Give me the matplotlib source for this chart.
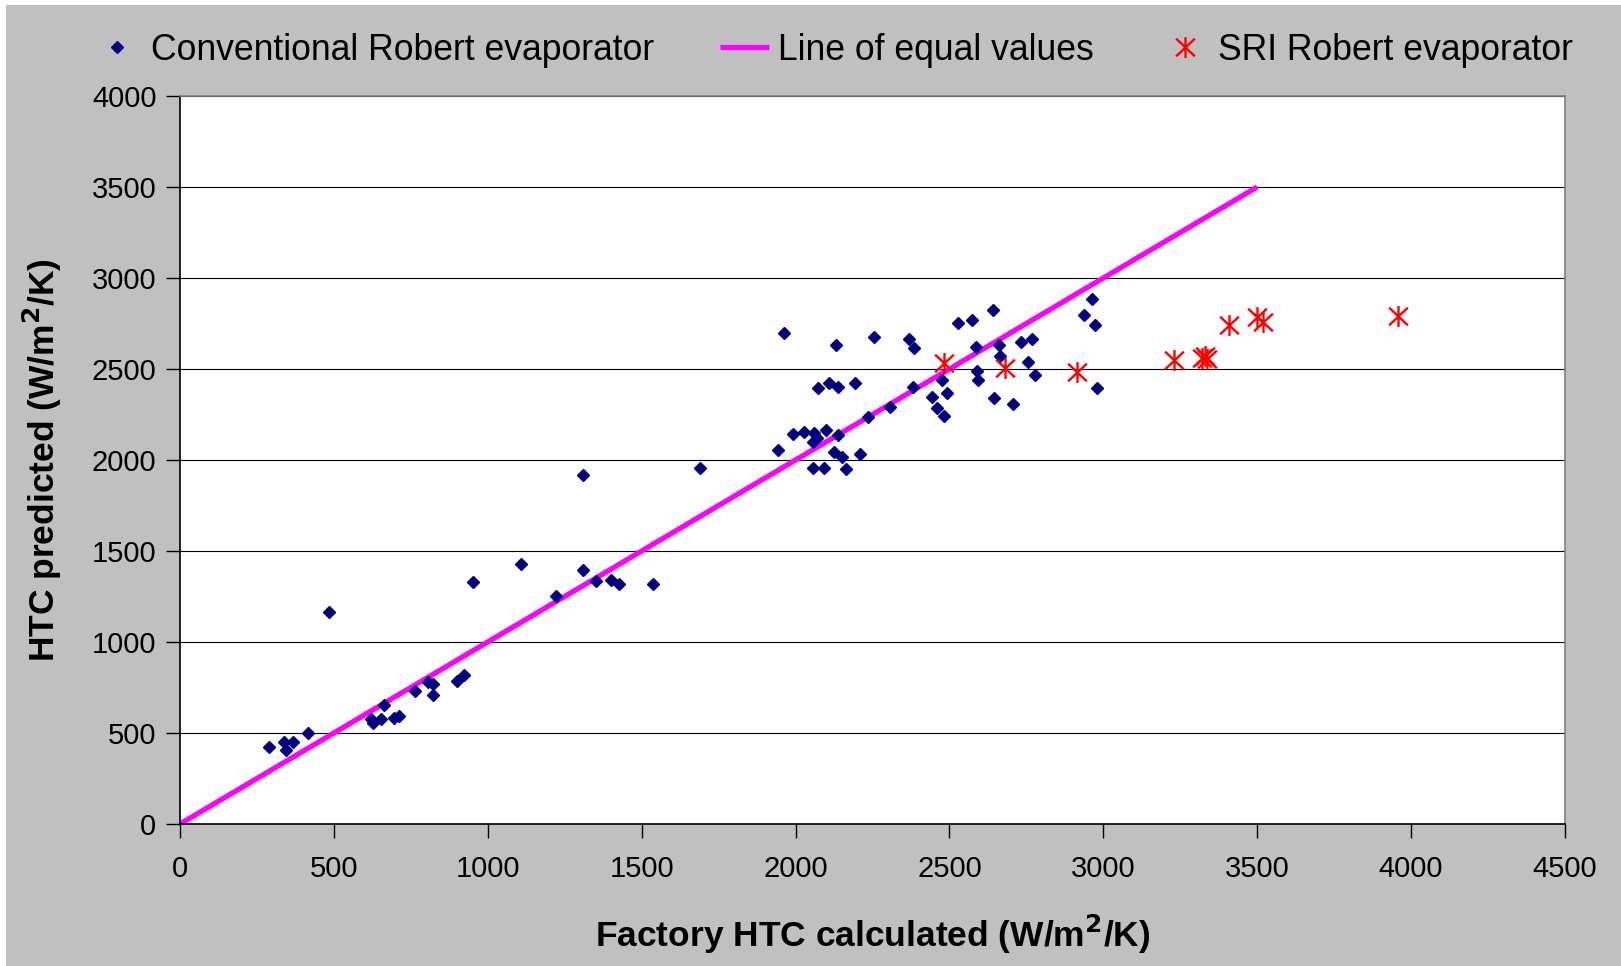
import matplotlib
matplotlib.use("Agg")
import matplotlib.pyplot as plt
from matplotlib.path import Path
from matplotlib.patches import Rectangle

plt.rcParams['font.family'] = ['Liberation Sans', 'DejaVu Sans']

# Conventional Robert evaporator (x = factory HTC calculated, y = HTC predicted)
conv_x = [289, 339, 345, 368, 415, 485, 620, 628, 652, 664, 696, 713, 763, 805, 823, 821,
          899, 923, 953, 1109, 1223, 1310, 1310, 1353, 1401, 1426, 1538, 1690,
          1944, 1964, 1991, 2028, 2056, 2061, 2071, 2058, 2073, 2092, 2098, 2109, 2126,
          2132, 2139, 2139, 2150, 2164, 2194, 2211, 2236, 2254, 2307, 2370, 2381, 2385,
          2442, 2459, 2475, 2482, 2492, 2529, 2572, 2586, 2589, 2592, 2641, 2644, 2660,
          2663, 2707, 2733, 2755, 2767, 2779, 2937, 2962, 2974, 2980]
conv_y = [423, 450, 408, 450, 502, 1166, 575, 557, 575, 652, 584, 593, 729, 780, 768, 711,
          784, 820, 1328, 1427, 1254, 1919, 1394, 1335, 1341, 1319, 1317, 1958,
          2057, 2699, 2144, 2152, 2101, 2147, 2119, 1954, 2397, 1958, 2165, 2425, 2046,
          2630, 2399, 2139, 2018, 1951, 2421, 2033, 2238, 2677, 2293, 2667, 2399, 2617,
          2348, 2287, 2440, 2242, 2370, 2753, 2769, 2619, 2489, 2440, 2822, 2339, 2630,
          2571, 2309, 2650, 2540, 2665, 2465, 2799, 2883, 2742, 2394]

# SRI Robert evaporator
sri_x = [2482, 2682, 2916, 3230, 3320, 3330, 3336, 3409, 3498, 3520, 3956]
sri_y = [2535, 2504, 2486, 2550, 2560, 2570, 2555, 2742, 2784, 2760, 2791]

# Line of equal values
eq_x = [0, 3500]
eq_y = [0, 3500]

x_ticks = [0, 500, 1000, 1500, 2000, 2500, 3000, 3500, 4000, 4500]
y_ticks = [0, 500, 1000, 1500, 2000, 2500, 3000, 3500, 4000]

W, H = 1621, 966
fig = plt.figure(figsize=(W / 100, H / 100), dpi=100, facecolor='white')
fig.patches.append(Rectangle((6 / W, 0), 1, 1 - 5 / H, transform=fig.transFigure,
                             facecolor='#C0C0C0', edgecolor='none', zorder=-10))

ax = fig.add_axes([180 / W, 1 - 824 / H, (1565 - 180) / W, (824 - 96) / H])
ax.set_facecolor('white')

star = Path([(0, -1), (0, 1), (-0.9, -0.85), (0.9, 0.85), (-0.9, 0.85), (0.9, -0.85)],
            [Path.MOVETO, Path.LINETO, Path.MOVETO, Path.LINETO, Path.MOVETO, Path.LINETO])

ax.plot(conv_x, conv_y, linestyle='none', marker='D', markersize=6,
        color='#000080', label='Conventional Robert evaporator', zorder=3)
ax.plot(eq_x, eq_y, color='#FF00FF', linewidth=3.8, label='Line of equal values',
        zorder=2, solid_capstyle='butt')
ax.plot(sri_x, sri_y, linestyle='none', marker=star, markersize=15,
        markerfacecolor='none', markeredgecolor='#FF0000', markeredgewidth=1.7,
        label='SRI Robert evaporator', zorder=4)

ax.set_xlim(0, 4500)
ax.set_ylim(0, 4000)
ax.set_xticks(x_ticks)
ax.set_yticks(y_ticks)
ax.tick_params(axis='both', direction='out', labelsize=21, colors='black')
ax.tick_params(axis='x', length=10, width=1, pad=12)
ax.tick_params(axis='y', length=10, width=1, pad=7)
ax.grid(axis='y', color='black', linewidth=0.8)
ax.set_axisbelow(True)
for s in ['top', 'right']:
    ax.spines[s].set_color('#808080')
    ax.spines[s].set_linewidth(1.2)
for s in ['left', 'bottom']:
    ax.spines[s].set_color('black')
    ax.spines[s].set_linewidth(1.2)

ax.set_xlabel('Factory HTC calculated (W/m$^\\mathbf{2}$/K)', fontsize=25.5,
              fontweight='bold', labelpad=22)
ax.set_ylabel('HTC predicted (W/m$^\\mathbf{2}$/K)', fontsize=25.5,
              fontweight='bold', labelpad=20)

fig.legend(loc='center left', bbox_to_anchor=(92 / W, 1 - 50 / H), ncol=3,
           frameon=False, fontsize=25.6, handlelength=1.4, handletextpad=0.25,
           columnspacing=1.85, borderpad=0, borderaxespad=0)

fig.savefig('out.png', dpi=100, facecolor=fig.get_facecolor())
